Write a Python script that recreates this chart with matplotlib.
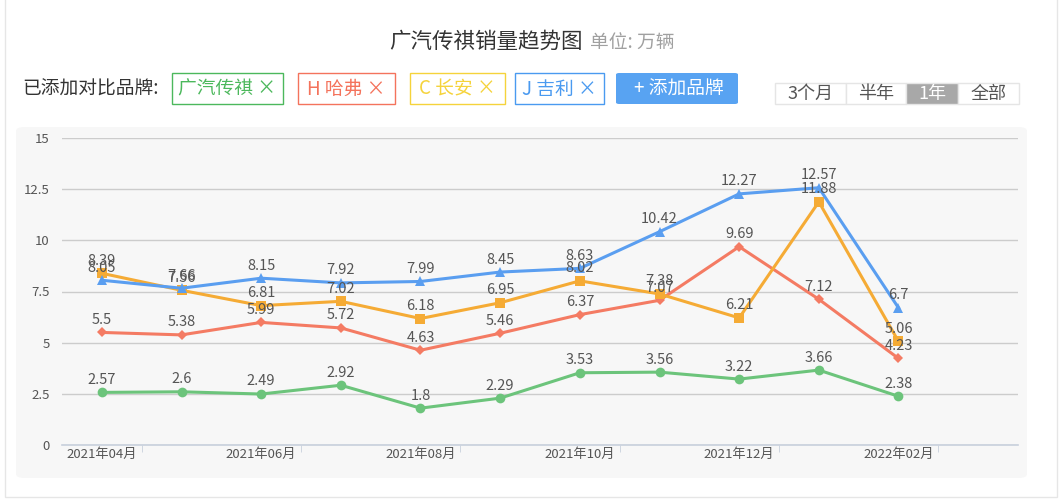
import matplotlib
matplotlib.use('Agg')
import matplotlib.pyplot as plt
from matplotlib.patches import FancyBboxPatch, Rectangle

plt.rcParams['font.family'] = ['Noto Sans CJK SC', 'DejaVu Sans']

# data
months = ['2021年04月', '2021年05月', '2021年06月', '2021年07月', '2021年08月', '2021年09月',
          '2021年10月', '2021年11月', '2021年12月', '2022年01月', '2022年02月', '2022年03月']
gac = [2.57, 2.6, 2.49, 2.92, 1.8, 2.29, 3.53, 3.56, 3.22, 3.66, 2.38]
haval = [5.5, 5.38, 5.99, 5.72, 4.63, 5.46, 6.37, 7.07, 9.69, 7.12, 4.23]
changan = [8.39, 7.56, 6.81, 7.02, 6.18, 6.95, 8.02, 7.38, 6.21, 11.88, 5.06]
geely = [8.05, 7.66, 8.15, 7.92, 7.99, 8.45, 8.63, 10.42, 12.27, 12.57, 6.7]
yticks = [0, 2.5, 5, 7.5, 10, 12.5, 15]
ytick_labels = ['0', '2.5', '5', '7.5', '10', '12.5', '15']

W, H = 1062, 503
fig = plt.figure(figsize=(W / 100, H / 100), dpi=100)


def px(x, y):
    return x / W, 1 - y / H


# card border and chart background
fig.patches.append(Rectangle(px(5, 497), 1052 / W, 505 / H, transform=fig.transFigure,
                             facecolor='white', edgecolor='#e6e6e6', linewidth=1, zorder=-2))
fig.patches.append(FancyBboxPatch(px(16, 478), 1011 / W, 351 / H,
                                  boxstyle='round,pad=0,rounding_size=0.008',
                                  transform=fig.transFigure, facecolor='#f7f7f7',
                                  edgecolor='none', zorder=-1))

# title
fig.text(*px(583, 42), '广汽传祺销量趋势图', ha='right', va='center', fontsize=15.5, color='#333333')
fig.text(*px(590, 43), '单位: 万辆', ha='left', va='center', fontsize=13.5, color='#a0a0a0')

# brand buttons
fig.text(*px(22, 89), '已添加对比品牌:', ha='left', va='center', fontsize=13.5, color='#333333')
brands = [('广汽传祺 ×', 172, 283, '#4cb85c'), ('H 哈弗 ×', 298, 395, '#f4735c'),
          ('C 长安 ×', 410, 505, '#f5d33b'), ('J 吉利 ×', 515, 604, '#4a9af0')]
for label, x0, x1, c in brands:
    fig.patches.append(Rectangle(px(x0, 104), (x1 - x0) / W, 31 / H, transform=fig.transFigure,
                                 facecolor='white', edgecolor=c, linewidth=1))
    fig.text(*px((x0 + x1) / 2, 89), label, ha='center', va='center', fontsize=13.5, color=c)
fig.patches.append(FancyBboxPatch(px(616, 104), 122 / W, 31 / H,
                                  boxstyle='round,pad=0,rounding_size=0.003',
                                  transform=fig.transFigure, facecolor='#58a3f2', edgecolor='none'))
fig.text(*px(679, 89), '+ 添加品牌', ha='center', va='center', fontsize=13.5, color='white')

# range selector
segs = [('3个月', 775, 846), ('半年', 846, 906), ('1年', 906, 958), ('全部', 958, 1019)]
for label, x0, x1 in segs:
    sel = label == '1年'
    fig.patches.append(Rectangle(px(x0, 104), (x1 - x0) / W, 21 / H, transform=fig.transFigure,
                                 facecolor='#a8a8a8' if sel else 'white',
                                 edgecolor='#e5e5e5', linewidth=1))
    fig.text(*px((x0 + x1) / 2, 94), label, ha='center', va='center', fontsize=13,
             color='white' if sel else '#555555')

# chart
ax = fig.add_axes([62 / W, (H - 445) / H, 956 / W, 307 / H])
ax.set_facecolor('none')
ax.set_xlim(-0.5, len(months) - 0.5)
ax.set_ylim(0, 15)
for s in ['top', 'right', 'left']:
    ax.spines[s].set_visible(False)
ax.spines['bottom'].set_color('#c8d0dc')
ax.spines['bottom'].set_linewidth(1.2)
ax.set_yticks(yticks)
ax.set_yticklabels(ytick_labels)
ax.tick_params(axis='y', length=0, pad=9, labelsize=9.5, labelcolor='#555555')
ax.grid(axis='y', color='#cccccc', linewidth=1)
ax.set_axisbelow(True)
ax.set_xticks(range(0, len(months) - 1, 2))
ax.set_xticklabels(months[0:len(months) - 1:2])
ax.set_xticks([i + 0.5 for i in range(0, len(months), 2)], minor=True)
ax.tick_params(axis='x', which='major', length=0, pad=2, labelsize=9.5, labelcolor='#555555')
ax.tick_params(axis='x', which='minor', length=5, color='#c8d0dc')

series = [(gac, '#6cc47b', 'o', 7), (haval, '#f47b63', 'D', 5),
          (changan, '#f5ab35', 's', 6.5), (geely, '#5a9ef0', '^', 7)]
x = list(range(len(gac)))
for vals, c, m, ms in series:
    ax.plot(x, vals, color=c, linewidth=2.2, marker=m, markersize=ms, markeredgewidth=0,
            clip_on=False)
    for xi, v in zip(x, vals):
        ax.annotate(f'{v:g}', (xi, v), xytext=(0, 4), textcoords='offset points',
                    ha='center', va='bottom', fontsize=10.5, color='#555555')

fig.savefig('out.png', dpi=100)
